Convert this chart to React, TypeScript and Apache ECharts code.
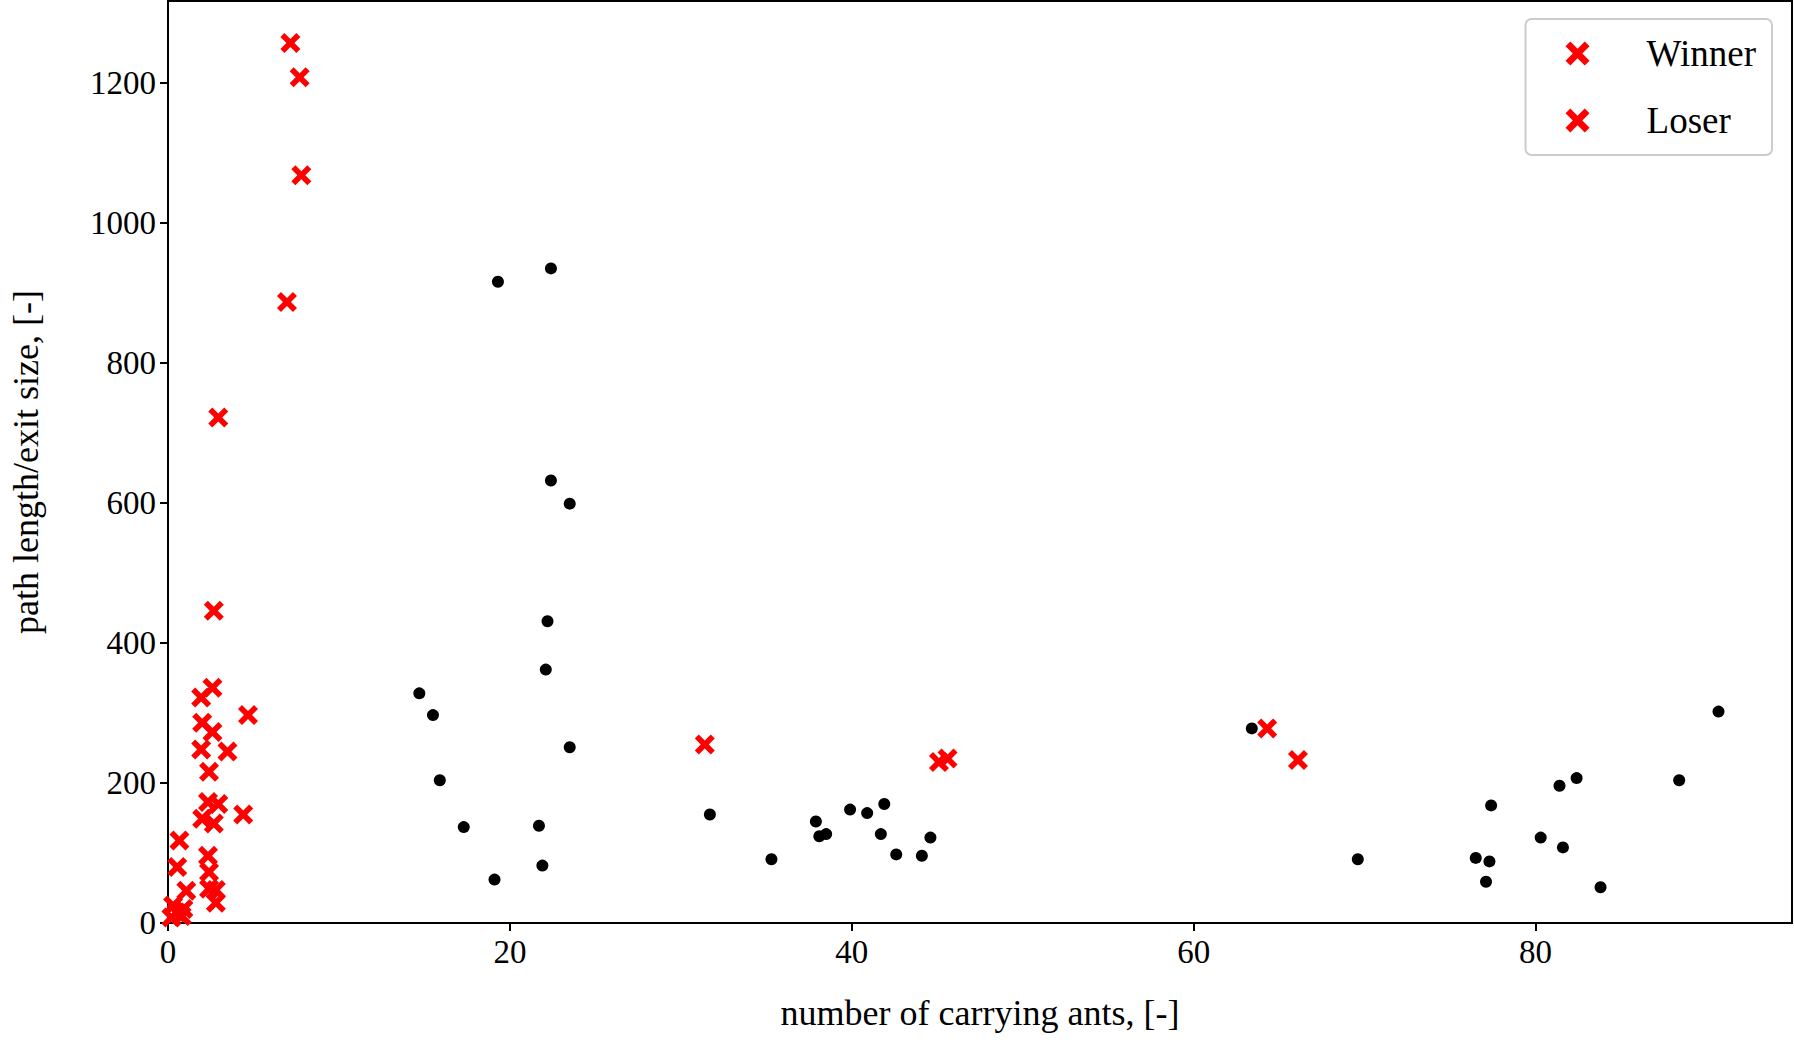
import { useEffect, useRef } from "react";
import * as echarts from "echarts";

// [x, y] pairs
const winner: number[][] = [
  [7.16, 1257], [7.7, 1208], [7.8, 1068], [6.96, 887], [2.94, 722], [2.68, 446],
  [2.6, 336], [1.94, 322], [2.0, 286], [2.6, 273], [1.94, 248], [3.48, 245],
  [4.68, 297], [2.4, 216], [2.34, 173], [2.94, 170], [2.0, 149], [2.68, 142],
  [4.4, 155], [0.67, 118], [2.34, 96],
];
const loser: number[][] = [
  [0.54, 80], [2.4, 73], [1.07, 46], [2.4, 49], [2.8, 47], [2.8, 29],
  [0.3, 25], [0.5, 15], [0.8, 10], [0.2, 8], [0.9, 20],
  [31.4, 255], [45.1, 230], [45.6, 235], [64.3, 278], [66.1, 233],
];
const others: number[][] = [
  [19.3, 916], [22.4, 935], [22.4, 632], [23.5, 599], [22.2, 431], [22.1, 362],
  [23.5, 251], [14.7, 328], [15.5, 297], [15.9, 204], [17.3, 137], [21.7, 139],
  [21.9, 82], [19.1, 62], [31.7, 155], [35.3, 91], [37.9, 145], [38.1, 124],
  [38.5, 127], [39.9, 162], [40.9, 157], [41.9, 170], [41.7, 127], [42.6, 98],
  [44.1, 96], [44.6, 122], [63.4, 278], [69.6, 91], [76.5, 93], [77.3, 88],
  [77.1, 59], [77.4, 168], [80.3, 122], [81.4, 196], [81.6, 108], [82.4, 207],
  [83.8, 51], [88.4, 204], [90.7, 302],
];

const cross =
  "path://M0,2 L2,0 L5,3 L8,0 L10,2 L7,5 L10,8 L8,10 L5,7 L2,10 L0,8 L3,5 Z";
const font = "'Liberation Serif', 'Times New Roman', serif";

export default function App() {
  const ref = useRef<HTMLDivElement>(null);

  useEffect(() => {
    if (!ref.current) return;
    const chart = echarts.init(ref.current, undefined, { renderer: "svg" });
    const axisCommon = {
      axisLine: { show: true, onZero: false, lineStyle: { color: "#000", width: 2 } },
      axisTick: { show: true, inside: false, length: 8, lineStyle: { color: "#000", width: 2 } },
      axisLabel: {
        color: "#000", fontSize: 33, fontFamily: font, margin: 12,
        showMaxLabel: false,
        formatter: (v: number) => String(v),
      },
      splitLine: { show: false },
      nameTextStyle: { color: "#000", fontSize: 36, fontFamily: font },
    };
    chart.setOption({
      animation: false,
      backgroundColor: "#fff",
      grid: {
        left: 167, right: 2, top: 1, bottom: 122,
        show: true, borderColor: "#000", borderWidth: 2,
      },
      legend: {
        data: ["Winner", "Loser"],
        orient: "vertical",
        right: 22,
        top: 19,
        itemWidth: 24,
        itemHeight: 24,
        itemGap: 30,
        padding: [16, 16, 16, 40],
        borderColor: "#ccc",
        borderWidth: 2,
        borderRadius: 6,
        textStyle: { color: "#000", fontSize: 37, fontFamily: font, padding: [0, 0, 0, 52] },
      },
      xAxis: {
        ...axisCommon,
        type: "value",
        min: 0,
        max: 95,
        interval: 20,
        name: "number of carrying ants, [-]",
        nameLocation: "middle",
        nameGap: 72,
      },
      yAxis: {
        ...axisCommon,
        type: "value",
        min: 0,
        max: 1317,
        interval: 200,
        name: "path length/exit size, [-]",
        nameLocation: "middle",
        nameGap: 124,
      },
      series: [
        {
          name: "others",
          type: "scatter",
          data: others,
          symbol: "circle",
          symbolSize: 12,
          itemStyle: { color: "#000", opacity: 1 },
        },
        {
          name: "Winner",
          type: "scatter",
          data: winner,
          symbol: cross,
          symbolSize: 20,
          itemStyle: { color: "#ff0000", opacity: 1 },
        },
        {
          name: "Loser",
          type: "scatter",
          data: loser,
          symbol: cross,
          symbolSize: 20,
          itemStyle: { color: "#ff0000", opacity: 1 },
        },
      ],
    });
    return () => chart.dispose();
  }, []);

  return (
    <div
      ref={ref}
      style={{ position: "fixed", left: 0, top: 0, width: 1794, height: 1045 }}
    />
  );
}
